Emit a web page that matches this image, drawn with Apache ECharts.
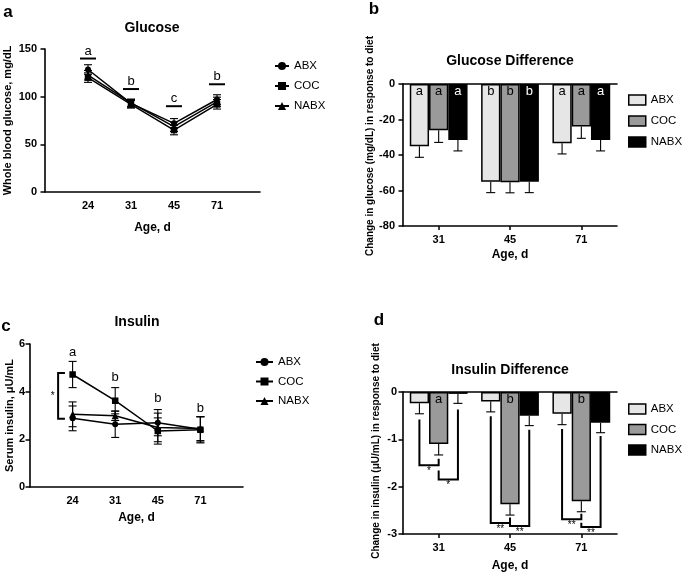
<!DOCTYPE html>
<html><head><meta charset="utf-8">
<script src="https://cdn.jsdelivr.net/npm/echarts@6/dist/echarts.min.js"></script>
<style>html,body{margin:0;padding:0;background:#fff}#c{width:685px;height:584px}</style>
</head><body><div id="c"></div>
<script>
// ---------- data ----------
const ageLine = ['24', '31', '45', '71'];
const ageBar = ['31', '45', '71'];
const groups = ['ABX', 'COC', 'NABX'];

// a: whole blood glucose (mg/dL)
const glucABX = [128.5, 93, 72, 97];
const glucCOC = [120, 92, 65, 92];
const glucNABX = [122.5, 93.5, 68.5, 94.5];
const glucErrABX = [5, 4, 5, 5];
const glucErrCOC = [5, 4, 5, 5];
const glucErrNABX = [5, 4, 5, 5];
const glucLetters = ['a', 'b', 'c', 'b'];
const glucLetterLevel = [140, 108, 90, 113];

// b: change in glucose
const gdABX = [-35, -55, -33.4];
const gdCOC = [-26, -55.3, -24];
const gdNABX = [-31.5, -55, -31.5];
const gdErrABX = [6.3, 6.2, 6];
const gdErrCOC = [6.9, 6, 6.6];
const gdErrNABX = [6.2, 6.2, 6.2];
const gdLetters = ['a', 'b', 'a'];

// c: serum insulin (uU/mL)
const insABX = [2.88, 2.63, 2.7, 2.42];
const insCOC = [4.72, 3.62, 2.35, 2.4];
const insNABX = [3.05, 2.99, 2.5, 2.45];
const insErrABX = [0.52, 0.55, 0.55, 0.53];
const insErrCOC = [0.55, 0.55, 0.55, 0.55];
const insErrNABX = [0.52, 0.2, 0.6, 0.5];
const insLetters = ['a', 'b', 'b', 'b'];
const insLetterLevel = [5.63, 4.6, 3.7, 3.3];
const insBracket = [[0.82, 4.78], [0.66, 4.78], [0.66, 2.86], [0.82, 2.86]];
const insBracketStar = [0.53, 3.8];

// d: change in insulin
const idABX = [-0.24, -0.2, -0.46];
const idCOC = [-1.1, -2.37, -2.31];
const idNABX = [-0.04, -0.5, -0.65];
const idErrABX = [0.22, 0.22, 0.23];
const idErrCOC = [0.23, 0.23, 0.22];
const idErrNABX = [0.2, 0.21, 0.21];
const idLetters = ['a', 'b', 'b'];
// [category, left bar, left top, right bar, right top, bottom, label]
const idBrackets = [
  [0, 0, -0.58, 1, -1.41, -1.55, '*'],
  [0, 1, -1.66, 2, -0.37, -1.85, '*'],
  [1, 0, -0.51, 1, -2.65, -2.77, '**'],
  [1, 1, -2.73, 2, -0.80, -2.83, '**'],
  [2, 0, -0.78, 1, -2.57, -2.69, '**'],
  [2, 1, -2.76, 2, -0.93, -2.85, '**']
];

// ---------- style ----------
const FF = '"Liberation Sans", Arial, Helvetica, sans-serif';
const BAR_FILL = ['#e6e6e6', '#9a9a9a', '#000000'];
const SYMBOLS = ['circle', 'rect', 'triangle'];
const SYMSIZE = [6, 6.5, 7];
const GAP = 0.19;

const chart = echarts.init(document.getElementById('c'));

function lineErr(params, api) {
  const x = api.value(0), lo = api.value(1), hi = api.value(2);
  const p1 = api.coord([x, lo]), p2 = api.coord([x, hi]);
  const w = 4, st = { stroke: '#000', lineWidth: 1.1 };
  return { type: 'group', children: [
    { type: 'line', shape: { x1: p1[0], y1: p1[1], x2: p2[0], y2: p2[1] }, style: st },
    { type: 'line', shape: { x1: p1[0] - w, y1: p1[1], x2: p1[0] + w, y2: p1[1] }, style: st },
    { type: 'line', shape: { x1: p2[0] - w, y1: p2[1], x2: p2[0] + w, y2: p2[1] }, style: st }
  ]};
}
function barErr(params, api) {
  const cat = api.value(0), s = api.value(1), v = api.value(2), e = api.value(3);
  const band = api.size([1, 0])[0];
  const bw = band * (1 - GAP) / 3;
  const x = api.coord([cat, 0])[0] + (s - 1) * bw;
  const y1 = api.coord([cat, v])[1], y2 = api.coord([cat, e])[1];
  const w = 4.5, st = { stroke: '#000', lineWidth: 1.1 };
  return { type: 'group', children: [
    { type: 'line', shape: { x1: x, y1: y1, x2: x, y2: y2 }, style: st },
    { type: 'line', shape: { x1: x - w, y1: y2, x2: x + w, y2: y2 }, style: st }
  ]};
}

const series = [];
const lineSets = [[glucABX, glucCOC, glucNABX], [insABX, insCOC, insNABX]];
const lineErrs = [[glucErrABX, glucErrCOC, glucErrNABX], [insErrABX, insErrCOC, insErrNABX]];
const lineAxes = [0, 2];
lineSets.forEach((set, k) => {
  set.forEach((vals, g) => {
    series.push({
      type: 'custom', xAxisIndex: lineAxes[k] === 0 ? 0 : 3, yAxisIndex: lineAxes[k], silent: true, z: 2,
      encode: { x: 0, y: [1, 2] },
      data: vals.map((v, i) => [i + 1, v - lineErrs[k][g][i], v + lineErrs[k][g][i]]),
      renderItem: lineErr
    });
  });
  set.forEach((vals, g) => {
    series.push({
      name: groups[g] + '|' + k, type: 'line', xAxisIndex: lineAxes[k] === 0 ? 0 : 3, yAxisIndex: lineAxes[k],
      data: vals.map((v, i) => [i + 1, v]),
      symbol: SYMBOLS[g], symbolSize: SYMSIZE[g], z: 3,
      lineStyle: { color: '#000', width: 1.5 }, itemStyle: { color: '#000' }
    });
  });
});

const barSets = [[gdABX, gdCOC, gdNABX], [idABX, idCOC, idNABX]];
const barErrs = [[gdErrABX, gdErrCOC, gdErrNABX], [idErrABX, idErrCOC, idErrNABX]];
const barX = [1, 4], barY = [1, 3];
barSets.forEach((set, k) => {
  set.forEach((vals, g) => {
    series.push({
      type: 'custom', xAxisIndex: barX[k], yAxisIndex: barY[k], silent: true, z: 1,
      encode: { x: 0, y: 2 },
      data: vals.map((v, i) => [i, g, v, v - barErrs[k][g][i]]),
      renderItem: barErr
    });
  });
  set.forEach((vals, g) => {
    const showLab = k === 0 || g === 1;
    const letters = k === 0 ? gdLetters : idLetters;
    series.push({
      name: groups[g] + '|' + (k + 2), type: 'bar', xAxisIndex: barX[k], yAxisIndex: barY[k],
      data: vals, z: 2, barGap: '0%', barCategoryGap: (GAP * 100) + '%',
      itemStyle: { color: BAR_FILL[g], borderColor: '#000', borderWidth: 1.5 },
      label: { show: showLab, position: 'insideTop', distance: 1,
        formatter: p => letters[p.dataIndex],
        color: g === 2 ? '#fff' : '#000', fontFamily: FF, fontSize: 13 }
    });
  });
});

// letters in a
series.push({
  type: 'custom', xAxisIndex: 0, yAxisIndex: 0, silent: true, z: 4,
  data: glucLetterLevel.map((v, i) => [i + 1, v]),
  renderItem: (params, api) => {
    const p = api.coord([api.value(0), api.value(1)]);
    return { type: 'group', children: [
      { type: 'line', shape: { x1: p[0] - 8, y1: p[1], x2: p[0] + 8, y2: p[1] }, style: { stroke: '#000', lineWidth: 2 } },
      { type: 'text', style: { text: glucLetters[params.dataIndex], x: p[0], y: p[1] - 1, align: 'center', verticalAlign: 'bottom', font: '13px ' + FF, fill: '#000' } }
    ]};
  }
});
// letters in c
series.push({
  type: 'custom', xAxisIndex: 3, yAxisIndex: 2, silent: true, z: 4,
  data: insLetterLevel.map((v, i) => [i + 1, v]),
  renderItem: (params, api) => {
    const p = api.coord([api.value(0), api.value(1)]);
    return { type: 'text', style: { text: insLetters[params.dataIndex], x: p[0], y: p[1], align: 'center', verticalAlign: 'middle', font: '13px ' + FF, fill: '#000' } };
  }
});
// bracket in c
series.push({
  type: 'custom', xAxisIndex: 3, yAxisIndex: 2, silent: true, z: 4,
  data: [insBracketStar],
  renderItem: (params, api) => {
    const pts = insBracket.map(q => api.coord(q));
    const s = api.coord(insBracketStar);
    return { type: 'group', children: [
      { type: 'polyline', shape: { points: pts }, style: { stroke: '#000', lineWidth: 2, fill: null } },
      { type: 'text', style: { text: '*', x: s[0], y: s[1], align: 'center', verticalAlign: 'middle', font: '10px ' + FF, fill: '#000' } }
    ]};
  }
});
// brackets in d
series.push({
  type: 'custom', xAxisIndex: 4, yAxisIndex: 3, silent: true, z: 4,
  encode: { x: 0, y: 1 },
  data: idBrackets.map(b => [b[0], b[5]]),
  renderItem: (params, api) => {
    const b = idBrackets[params.dataIndex];
    const band = api.size([1, 0])[0];
    const bw = band * (1 - GAP) / 3;
    const cx = api.coord([b[0], 0])[0];
    const xl = cx + (b[1] - 1) * bw, xr = cx + (b[3] - 1) * bw;
    const yl = api.coord([b[0], b[2]])[1], yr = api.coord([b[0], b[4]])[1], yb = api.coord([b[0], b[5]])[1];
    return { type: 'group', children: [
      { type: 'polyline', shape: { points: [[xl, yl], [xl, yb], [xr, yb], [xr, yr]] }, style: { stroke: '#000', lineWidth: 2, fill: null } },
      { type: 'text', style: { text: b[6], x: (xl + xr) / 2, y: yb + 1, align: 'center', verticalAlign: 'top', font: '10px ' + FF, fill: '#000' } }
    ]};
  }
});

const axLine = { show: true, onZero: false, lineStyle: { color: '#000', width: 1.6 } };
const tickLab = { color: '#000', fontFamily: FF, fontWeight: 'bold', fontSize: 11 };
const nameSt = { color: '#000', fontFamily: FF, fontWeight: 'bold', fontSize: 12 };
const ageFmt = v => (v >= 1 && v <= 4 && Number.isInteger(v)) ? ageLine[v - 1] : '';

function valX(grid) {
  return { type: 'value', gridIndex: grid, min: 0, max: 5, interval: 1, axisLine: axLine,
    axisTick: { show: false }, splitLine: { show: false },
    axisLabel: Object.assign({ formatter: ageFmt, margin: 8 }, tickLab),
    name: 'Age, d', nameLocation: 'middle', nameGap: grid === 0 ? 30 : 25, nameTextStyle: nameSt };
}
function catX(grid, gap) {
  return { type: 'category', gridIndex: grid, data: ageBar, axisLine: axLine,
    axisTick: { show: true, alignWithLabel: true, length: 4, lineStyle: { color: '#000', width: 1.5 } },
    axisLabel: Object.assign({ margin: 8 }, tickLab),
    name: 'Age, d', nameLocation: 'middle', nameGap: gap, nameTextStyle: nameSt };
}
function topX(grid) {
  return { type: 'category', gridIndex: grid, data: ageBar, position: 'top', axisLine: axLine,
    axisTick: { show: false }, axisLabel: { show: false } };
}
function valY(grid, min, max, interval, name, gap, fs, margin, pad) {
  return { type: 'value', gridIndex: grid, min: min, max: max, interval: interval, axisLine: axLine,
    axisTick: { show: true, length: 4.5, lineStyle: { color: '#000', width: 1.5 } },
    splitLine: { show: false },
    axisLabel: Object.assign({ margin: margin }, tickLab),
    name: name, nameLocation: 'middle', nameGap: gap,
    nameTextStyle: Object.assign({}, nameSt, { fontSize: fs, padding: pad }) };
}

function legendFor(names, left, top, gap, w, isBar) {
  const l = {
    data: names, orient: 'vertical', left: left, top: top, itemGap: gap,
    itemWidth: w, itemHeight: 10, selectedMode: false, padding: 0,
    formatter: n => n.split('|')[0],
    textStyle: { color: '#000', fontFamily: FF, fontSize: 11.5 }
  };
  if (isBar) { l.icon = 'rect'; l.itemStyle = { borderColor: '#000', borderWidth: 1.5 }; }
  return l;
}

const option = {
  animation: false,
  backgroundColor: '#fff',
  textStyle: { fontFamily: FF },
  grid: [
    { left: 45, top: 49, width: 215, height: 143 },
    { left: 403, top: 84, width: 214, height: 142 },
    { left: 30, top: 344, width: 213, height: 143 },
    { left: 403, top: 392, width: 214, height: 142 }
  ],
  xAxis: [valX(0), catX(1, 23), topX(1), valX(2), catX(3, 26), topX(3)],
  yAxis: [
    valY(0, 0, 150, 50, 'Whole blood glucose, mg/dL', 32, 11, 8, [0, 0, 0, 0]),
    valY(1, -80, 0, 20, 'Change in glucose (mg/dL) in response to diet', 28, 10, 8, [0, 0, 0, 18]),
    valY(2, 0, 6, 2, 'Serum insulin, \u03bcU/mL', 15, 11, 5, [0, 0, 0, 0]),
    valY(3, -3, 0, 1, 'Change in insulin (\u03bcU/mL) in response to diet', 22, 10, 6, [0, 0, 0, 24])
  ],
  legend: [
    legendFor(groups.map(g => g + '|0'), 274, 60, 8, 14, false),
    legendFor(groups.map(g => g + '|2'), 628, 94, 9, 17, true),
    legendFor(groups.map(g => g + '|1'), 255, 356, 7.5, 17, false),
    legendFor(groups.map(g => g + '|3'), 628, 403, 8.5, 17, true)
  ],
  graphic: [
    { type: 'text', x: 152, y: 28, style: { text: 'Glucose', align: 'center', verticalAlign: 'middle', font: 'bold 14px ' + FF, fill: '#000' } },
    { type: 'text', x: 510, y: 61, style: { text: 'Glucose Difference', align: 'center', verticalAlign: 'middle', font: 'bold 14px ' + FF, fill: '#000' } },
    { type: 'text', x: 137, y: 322, style: { text: 'Insulin', align: 'center', verticalAlign: 'middle', font: 'bold 14px ' + FF, fill: '#000' } },
    { type: 'text', x: 510, y: 370, style: { text: 'Insulin Difference', align: 'center', verticalAlign: 'middle', font: 'bold 14px ' + FF, fill: '#000' } },
    { type: 'text', x: 8, y: 12, style: { text: 'a', align: 'center', verticalAlign: 'middle', font: 'bold 17px ' + FF, fill: '#000' } },
    { type: 'text', x: 374, y: 9, style: { text: 'b', align: 'center', verticalAlign: 'middle', font: 'bold 17px ' + FF, fill: '#000' } },
    { type: 'text', x: 6, y: 326, style: { text: 'c', align: 'center', verticalAlign: 'middle', font: 'bold 17px ' + FF, fill: '#000' } },
    { type: 'text', x: 379, y: 320, style: { text: 'd', align: 'center', verticalAlign: 'middle', font: 'bold 17px ' + FF, fill: '#000' } }
  ],
  series: series
};
chart.setOption(option);
</script></body></html>
